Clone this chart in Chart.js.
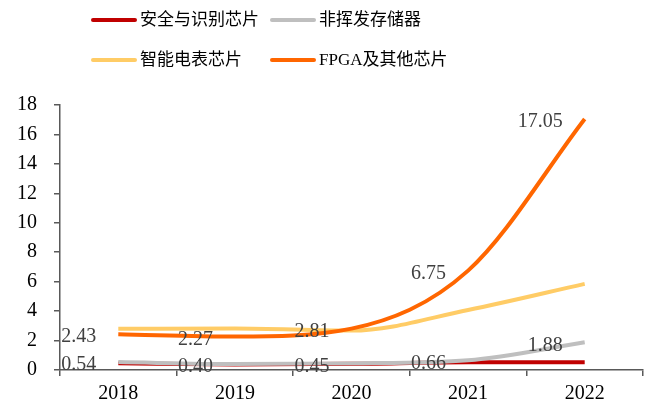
<!DOCTYPE html>
<html>
<head>
<meta charset="utf-8">
<script src="https://cdn.jsdelivr.net/npm/chart.js@4.4.0/dist/chart.umd.min.js"></script>
<style>
html,body{margin:0;padding:0;background:#fff;}
#wrap{width:659px;height:407px;position:relative;}
</style>
</head>
<body>
<div id="wrap"><canvas id="c" width="659" height="407"></canvas></div>
<script>
const years = ['2018', '2019', '2020', '2021', '2022'];
const seriesNames = ['安全与识别芯片', '非挥发存储器', '智能电表芯片', 'FPGA及其他芯片'];
const securityChips = [0.45, 0.38, 0.42, 0.52, 0.52];
const nvmValues = [0.54, 0.40, 0.45, 0.66, 1.88];
const meterChips = [2.80, 2.82, 2.68, 4.08, 5.85];
const fpgaValues = [2.43, 2.27, 2.81, 6.75, 17.05];
const yTicksMax = 18;
const yTickStep = 2;
const colors = ['#C00000', '#BFBFBF', '#FFCC66', '#FF6600'];
const labelledSeries = [3, 1];

const labelPlugin = {
  id: 'valueLabels',
  afterDatasetsDraw(chart) {
    const ctx = chart.ctx;
    ctx.save();
    ctx.font = '20px "Liberation Serif", "Times New Roman", serif';
    ctx.fillStyle = '#404040';
    ctx.textAlign = 'right';
    ctx.textBaseline = 'middle';
    labelledSeries.forEach((di) => {
      const meta = chart.getDatasetMeta(di);
      const vals = chart.data.datasets[di].data;
      meta.data.forEach((pt, i) => {
        ctx.fillText(vals[i].toFixed(2), pt.x - 22, pt.y + 3);
      });
    });
    ctx.restore();
  }
};

const legendPlugin = {
  id: 'customLegend',
  afterDraw(chart) {
    const ctx = chart.ctx;
    const pos = [[93, 20], [272, 20], [93, 60], [272, 60]];
    ctx.save();
    chart.data.datasets.forEach((ds, i) => {
      const [x, yy] = pos[i];
      ctx.strokeStyle = ds.borderColor;
      ctx.lineWidth = 4;
      ctx.lineCap = 'round';
      ctx.beginPath();
      ctx.moveTo(x, yy);
      ctx.lineTo(x + 42, yy);
      ctx.stroke();
      ctx.fillStyle = '#000';
      ctx.font = '17px "Liberation Serif", "Noto Sans CJK SC", serif';
      ctx.textAlign = 'left';
      ctx.textBaseline = 'middle';
      ctx.fillText(ds.label, x + 47, yy + 1);
    });
    ctx.restore();
  }
};

const mk = (i, data, order) => ({
  label: seriesNames[i],
  data: data,
  borderColor: colors[i],
  backgroundColor: colors[i],
  borderWidth: 4,
  pointRadius: 0,
  tension: 0.4,
  cubicInterpolationMode: 'monotone',
  fill: false,
  order: order
});

new Chart(document.getElementById('c'), {
  type: 'line',
  data: {
    labels: years,
    datasets: [
      mk(0, securityChips, 4),
      mk(1, nvmValues, 3),
      mk(2, meterChips, 2),
      mk(3, fpgaValues, 1)
    ]
  },
  options: {
    responsive: false,
    animation: false,
    layout: { padding: { left: 0, right: 16, top: 105, bottom: 0 } },
    plugins: { legend: { display: false }, tooltip: { enabled: false } },
    scales: {
      x: {
        offset: true,
        grid: { offset: true, drawOnChartArea: false, drawTicks: true, tickLength: 6, color: '#595959', lineWidth: 1.5 },
        border: { display: true, color: '#595959', width: 1.5 },
        ticks: { color: '#000', font: { family: '"Liberation Serif", serif', size: 20 }, padding: 6, maxRotation: 0 },
        afterFit(s) { s.height = 37; }
      },
      y: {
        min: 0,
        max: yTicksMax,
        ticks: { stepSize: yTickStep, color: '#000', font: { family: '"Liberation Serif", serif', size: 20 }, padding: 17 },
        grid: { drawOnChartArea: false, drawTicks: true, tickLength: 6, color: '#595959', lineWidth: 1.5 },
        border: { display: true, color: '#595959', width: 1.5 },
        afterFit(s) { s.width = 60; }
      }
    }
  },
  plugins: [labelPlugin, legendPlugin]
});
</script>
</body>
</html>
